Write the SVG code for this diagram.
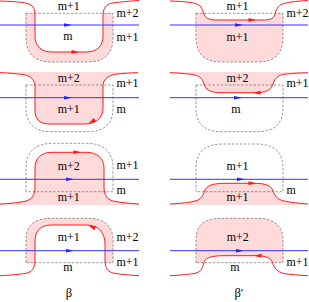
<svg xmlns="http://www.w3.org/2000/svg" xmlns:xlink="http://www.w3.org/1999/xlink" width="309" height="302" viewBox="0 0 309 302">
<style>
.red{fill:none;stroke:#ff1a1a;stroke-width:1}
.blue{fill:none;stroke:#3333ff;stroke-width:1}
.dash{fill:none;stroke:#555;stroke-width:0.6;stroke-dasharray:2.5,1.6}
.pink{fill:#ffdada;stroke:none}
.t{font-family:"Liberation Serif","Times New Roman",serif;font-size:12px;fill:#000}
.c{text-anchor:middle}
</style>
<defs>
<path id="ra" d="M3,0 L-4.5,-2 L-4.5,2 Z" fill="#ff1a1a"/>
<path id="ba" d="M3,0 L-5,-1.8 L-5,1.8 Z" fill="#2222ff"/>
</defs>

<g id="panel-1-left">
<path class="pink" fill-rule="evenodd" d="M26,13.3 H113 V38 C113,54 104,62 88,62 H51 C35,62 26,54 26,38 Z M35,13.3 V36 C35,46 41,52 52,52 H86 C97,52 103,46 103,36 V13.3 Z"/>
<path class="dash" d="M26,13.3 H113 V38 C113,54 104,62 88,62 H51 C35,62 26,54 26,38 Z"/>
<path class="red" d="M0,1 C12,1.5 24,2 29,4 C34,6 35,10 35,16 V36 C35,46 41,52 52,52 H86 C97,52 103,46 103,36 V16 C103,8 106,4 113,3 C120,2 130,1 139,0.5"/>
<path class="blue" d="M0,25 H139"/>
<use xlink:href="#ba" transform="translate(69,25)"/>
<use xlink:href="#ra" transform="translate(76,52)"/>
<text class="t c" x="68.7" y="9.5">m+1</text>
<text class="t" x="116.5" y="16.5">m+2</text>
<text class="t c" x="68" y="40">m</text>
<text class="t" x="116.5" y="40.5">m+1</text>
</g>

<g id="panel-1-right">
<path class="pink" d="M196,13.3 H203.6 C205,18 209,20 216,20 H264 C271,20 274,18 275.3,13.3 H283 V38 C283,54 274,62 258,62 H221 C205,62 196,54 196,38 Z"/>
<path class="dash" d="M196,13.3 H283 V38 C283,54 274,62 258,62 H221 C205,62 196,54 196,38 Z"/>
<path class="red" d="M170,1 C182,1.5 192,2 197,4 C201,5.5 202.5,9 203.6,13.3 C205,18 209,20 216,20 H264 C271,20 274,18 275.3,13.3 C276.5,8 279,5 284,3.5 C291,1.5 300,1 308,0.5"/>
<path class="blue" d="M170,25 H308"/>
<use xlink:href="#ba" transform="translate(240,25)"/>
<use xlink:href="#ra" transform="translate(253,20)"/>
<text class="t c" x="237.5" y="9.5">m+1</text>
<text class="t" x="286.5" y="16.5">m+2</text>
<text class="t c" x="237.5" y="40.5">m+1</text>
</g>

<g id="panel-2-left">
<path class="pink" d="M0,72.7 C10,73 20,74 25,75 C31,76.5 34,79 35,86 V110 C35,119 39,124 50,124 H85 C97,124 103,117 103,108 V86 C103,80 107,76 115,74.3 C122,73.3 130,73 138,72.7 L138,72 L0,72 Z"/>
<path class="dash" d="M26,85 H113 V108 C113,124 104,131.7 88,131.7 H51 C35,131.7 26,124 26,108 Z"/>
<path class="red" d="M0,72.7 C10,73 20,74 25,75 C31,76.5 34,79 35,86 V110 C35,119 39,124 50,124 H85 C97,124 103,117 103,108 V86 C103,80 107,76 115,74.3 C122,73.3 130,73 138,72.7"/>
<path class="blue" d="M0,97.7 H139"/>
<use xlink:href="#ba" transform="translate(69,97.7)"/>
<use xlink:href="#ra" transform="translate(91,122) rotate(150)"/>
<text class="t c" x="68.7" y="81.5">m+2</text>
<text class="t" x="116.5" y="86.7">m+1</text>
<text class="t c" x="68.7" y="113.3">m+1</text>
<text class="t" x="116.5" y="113.3">m</text>
</g>

<g id="panel-2-right">
<path class="pink" d="M170,72.7 C180,73 190,74 195,75 C200,76.3 202.5,79 204,84 C205.5,89 209,92.7 221,92.7 H256 C266,92.7 271,90 273,84 C275,78 278,75 285,74.2 C292,73.3 300,73 308,72.7 L308,72 L170,72 Z"/>
<path class="dash" d="M196,85 H283 V108 C283,124 274,131.7 258,131.7 H221 C205,131.7 196,124 196,108 Z"/>
<path class="red" d="M170,72.7 C180,73 190,74 195,75 C200,76.3 202.5,79 204,84 C205.5,89 209,92.7 221,92.7 H256 C266,92.7 271,90 273,84 C275,78 278,75 285,74.2 C292,73.3 300,73 308,72.7"/>
<path class="blue" d="M170,97.7 H308"/>
<use xlink:href="#ba" transform="translate(239,97.7)"/>
<use xlink:href="#ra" transform="translate(256,92.7) rotate(180)"/>
<text class="t c" x="237.5" y="81.5">m+2</text>
<text class="t" x="286.5" y="86.7">m+1</text>
<text class="t c" x="236" y="113.3">m</text>
</g>

<g id="panel-3-left">
<path class="pink" d="M0,204 C10,203.5 20,202.5 26,201 C32,199.5 35,195 35,186 V168 C35,158 41,152.3 52,152.3 H86 C97,152.3 104,158 104,168 V186 C104,195 107,199.5 113,201 C120,202.5 130,203.5 139,204 L139,205 L0,205 Z"/>
<path class="dash" d="M26,191.7 V168 C26,151 36,143.3 53,143.3 H86 C103,143.3 113,151 113,168 V191.7 Z"/>
<path class="red" d="M0,204 C10,203.5 20,202.5 26,201 C32,199.5 35,195 35,186 V168 C35,158 41,152.3 52,152.3 H86 C97,152.3 104,158 104,168 V186 C104,195 107,199.5 113,201 C120,202.5 130,203.5 139,204"/>
<path class="blue" d="M0,179.3 H139"/>
<use xlink:href="#ba" transform="translate(71,179.3)"/>
<use xlink:href="#ra" transform="translate(78,152.3)"/>
<text class="t c" x="68.7" y="170">m+2</text>
<text class="t" x="116.5" y="169.3">m+1</text>
<text class="t" x="116.5" y="194">m</text>
<text class="t c" x="68.7" y="200.5">m+1</text>
</g>

<g id="panel-3-right">
<path class="pink" d="M170,204 C180,203.5 190,202.5 195,201 C201,199.5 203,196 204.5,191 C206,186 212,183.3 225,183.3 H253 C265,183.3 271,185 273,191 C275,196 277,199.5 284,201 C291,202.5 300,203.5 308,204 L308,205 L170,205 Z"/>
<path class="dash" d="M196,191.7 V168 C196,151 206,144 223,144 H256 C273,144 283,151 283,168 V191.7 Z"/>
<path class="red" d="M170,204 C180,203.5 190,202.5 195,201 C201,199.5 203,196 204.5,191 C206,186 212,183.3 225,183.3 H253 C265,183.3 271,185 273,191 C275,196 277,199.5 284,201 C291,202.5 300,203.5 308,204"/>
<path class="blue" d="M170,179.3 H308"/>
<use xlink:href="#ba" transform="translate(242,179.3)"/>
<use xlink:href="#ra" transform="translate(253,183.3)"/>
<text class="t c" x="237.5" y="170">m+1</text>
<text class="t" x="286.5" y="194">m</text>
<text class="t c" x="237.5" y="200.5">m+1</text>
</g>

<g id="panel-4-left">
<path class="pink" fill-rule="evenodd" d="M26,262.7 V240 C26,225 34,218.3 52,218.3 H88 C104,218.3 113,226 113,240 V262.7 Z M35,262.7 V242 C35,231 40,225 52,225 H86 C98,225 104,232 105,242 V262.7 Z"/>
<path class="dash" d="M26,262.7 V240 C26,225 34,218.3 52,218.3 H88 C104,218.3 113,226 113,240 V262.7 Z"/>
<path class="red" d="M0,275.7 C10,275.2 20,274.3 26,273.3 C32,272 35,268 35,260 V242 C35,231 40,225 52,225 H86 C98,225 104,232 105,242 V260 C105,268 108,272 114,273.3 C120,274.3 130,275.2 139,275.7"/>
<path class="blue" d="M0,250.7 H139"/>
<use xlink:href="#ba" transform="translate(71,250.7)"/>
<use xlink:href="#ra" transform="translate(91,226.5) rotate(205)"/>
<text class="t c" x="68.7" y="241">m+1</text>
<text class="t" x="116.5" y="241">m+2</text>
<text class="t" x="116.5" y="265.7">m+1</text>
<text class="t c" x="68" y="271">m</text>
</g>

<g id="panel-4-right">
<path class="pink" d="M196,262.7 H203.8 C205,258.5 209,256 222,255.7 H256 C267,256 271,258 272.8,262.7 H283 V240 C283,226 274,218.3 258,218.3 H222 C204,218.3 196,225 196,240 Z"/>
<path class="dash" d="M196,262.7 V240 C196,225 204,218.3 222,218.3 H258 C274,218.3 283,226 283,240 V262.7 Z"/>
<path class="red" d="M170,275.7 C180,275.2 190,274.3 195,273.3 C201,272 202.5,268 203.8,263 C205,258.5 209,256 222,255.7 H256 C267,256 271,258 272.8,263 C274.5,268 277,272 284,273.5 C291,274.7 300,275.3 308,275.7"/>
<path class="blue" d="M170,250.7 H308"/>
<use xlink:href="#ba" transform="translate(241,250.7)"/>
<use xlink:href="#ra" transform="translate(257,255.8) rotate(180)"/>
<text class="t c" x="237.7" y="241">m+2</text>
<text class="t c" x="235" y="271">m</text>
<text class="t" x="286.5" y="265.7">m+1</text>
</g>

<text class="t c" x="69" y="297" style="font-size:12.5px">β</text>
<text class="t c" x="239" y="297" style="font-size:12.5px">β′</text>
</svg>
